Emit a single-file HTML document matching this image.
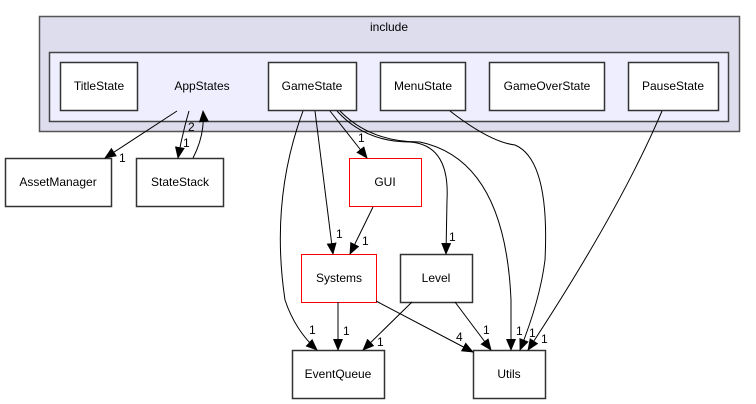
<!DOCTYPE html>
<html><head><meta charset="utf-8"><style>
html,body{margin:0;padding:0;background:#fff;}
svg{display:block;}
text{font-family:"Liberation Sans",sans-serif;font-size:12px;fill:#000;}
</style></head><body>
<svg width="756" height="404" viewBox="0 0 756 404" xmlns="http://www.w3.org/2000/svg">
<defs>
<marker id="a" markerWidth="12" markerHeight="10" refX="11" refY="5" orient="auto" markerUnits="userSpaceOnUse"><path d="M0,0 L12,5 L0,10 z" fill="#000"/></marker>
</defs>
<rect x="39.5" y="16.5" width="700" height="115" fill="#ddddee" stroke="#555" stroke-width="1.5"/>
<text x="389" y="31" text-anchor="middle">include</text>
<rect x="49.5" y="52.5" width="679" height="69" fill="#eeeeff" stroke="#444" stroke-width="1.5"/>
<text x="202" y="90" text-anchor="middle">AppStates</text>
<g fill="#fff" stroke="#333" stroke-width="1.5">
<rect x="60.5" y="62.5" width="77" height="48"/>
<rect x="268.5" y="62.5" width="88" height="48"/>
<rect x="380.5" y="62.5" width="85" height="48"/>
<rect x="489.5" y="62.5" width="115" height="48"/>
<rect x="628.5" y="62.5" width="90" height="48"/>
<rect x="5.5" y="158.5" width="106" height="48"/>
<rect x="136.5" y="158.5" width="87" height="48"/>
<rect x="400.5" y="254.5" width="72" height="48"/>
<rect x="292.5" y="350.5" width="92" height="48"/>
<rect x="473.5" y="350.5" width="72" height="48"/>
</g>
<g fill="#fff" stroke="#ff0000" stroke-width="1">
<rect x="349.5" y="158.5" width="72" height="48"/>
<rect x="301.5" y="254.5" width="75" height="48"/>
</g>
<g text-anchor="middle">
<text x="99" y="90">TitleState</text>
<text x="312" y="90">GameState</text>
<text x="423" y="90">MenuState</text>
<text x="547" y="90">GameOverState</text>
<text x="673" y="90">PauseState</text>
<text x="58" y="186">AssetManager</text>
<text x="180" y="186">StateStack</text>
<text x="385" y="186">GUI</text>
<text x="339" y="282">Systems</text>
<text x="436" y="282">Level</text>
<text x="338" y="378">EventQueue</text>
<text x="509" y="378">Utils</text>
</g>
<g fill="none" stroke="#000" stroke-width="1" marker-end="url(#a)">
<path d="M177,111 Q140,135 105,158"/>
<path d="M189,111 Q182,135 178,158"/>
<path d="M193,158 Q205,135 203,111"/>
<path d="M303,111 Q270,200 285,300 Q295,330 317,350"/>
<path d="M315,111 L333,254"/>
<path d="M330,111 L367,158"/>
<path d="M337,111 Q365,142 410,142 Q450,145 447,200 L446,254"/>
<path d="M340,111 Q370,142 420,142 Q505,160 511,300 L511,350"/>
<path d="M450,111 Q490,142 515,145 Q550,160 545,260 Q540,300 520,350"/>
<path d="M662,111 Q620,210 528,350"/>
<path d="M373,207 L350,254"/>
<path d="M338,302 L338,350"/>
<path d="M376,301 L473,352"/>
<path d="M412,302 L363,350"/>
<path d="M455,302 L491,350"/>
</g>
<g>
<text x="119" y="162">1</text>
<text x="183" y="147">1</text>
<text x="188" y="131">2</text>
<text x="309" y="334">1</text>
<text x="336" y="238">1</text>
<text x="358" y="142">1</text>
<text x="449" y="241">1</text>
<text x="516" y="335">1</text>
<text x="529" y="337">1</text>
<text x="541" y="343">1</text>
<text x="362" y="245">1</text>
<text x="343" y="335">1</text>
<text x="456" y="341">4</text>
<text x="377" y="346">1</text>
<text x="483" y="334">1</text>
</g>
</svg>
</body></html>
